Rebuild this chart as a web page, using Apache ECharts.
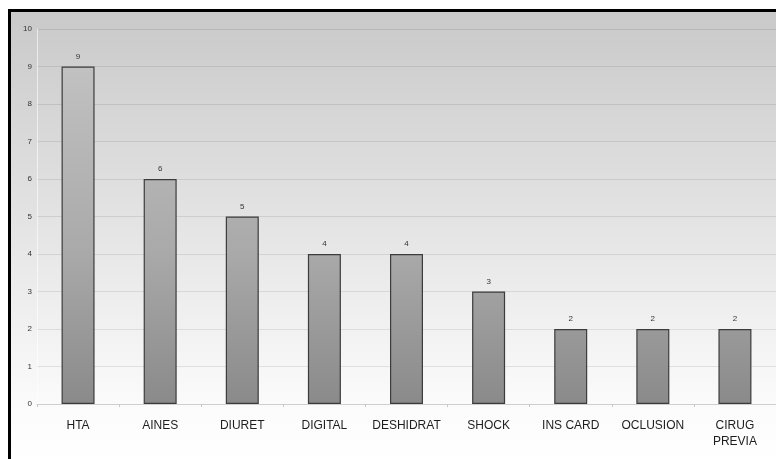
<!DOCTYPE html>
<html>
<head>
<meta charset="utf-8">
<script src="https://cdn.jsdelivr.net/npm/echarts@6/dist/echarts.min.js"></script>
<style>
  html, body { margin: 0; padding: 0; background: #ffffff; }
  #chart { width: 776px; height: 459px; }
</style>
</head>
<body>
<div id="chart"></div>
<script>
// Causes and their counts
const categories = ['HTA', 'AINES', 'DIURET', 'DIGITAL', 'DESHIDRAT', 'SHOCK', 'INS CARD', 'OCLUSION', 'CIRUG\nPREVIA'];
const counts = [9, 6, 5, 4, 4, 3, 2, 2, 2];
const yTicks = [0, 1, 2, 3, 4, 5, 6, 7, 8, 9, 10];

const GRID_TOP = 29;
const GRID_BOTTOM = 55;

const chart = echarts.init(document.getElementById('chart'), null, { renderer: 'canvas' });

chart.setOption({
  animation: false,
  backgroundColor: '#ffffff',
  graphic: [
    // grey panel fading to white towards the baseline
    {
      type: 'rect', z: -10, silent: true,
      shape: { x: 10, y: 11, width: 766, height: 448 },
      style: {
        fill: new echarts.graphic.LinearGradient(0, 0, 0, 1, [
          { offset: 0, color: '#c9c9c9' },
          { offset: 0.88, color: '#fbfbfb' },
          { offset: 1, color: '#ffffff' }
        ])
      }
    },
    // black frame on the left and top edges
    { type: 'rect', z: 100, silent: true, shape: { x: 8, y: 9, width: 768, height: 3 }, style: { fill: '#000' } },
    { type: 'rect', z: 100, silent: true, shape: { x: 8, y: 9, width: 3, height: 450 }, style: { fill: '#000' } }
  ],
  grid: { left: 37, right: 0, top: GRID_TOP, bottom: GRID_BOTTOM, containLabel: false },
  xAxis: {
    type: 'category',
    data: categories,
    axisLine: { show: true, lineStyle: { color: '#cfcfcf', width: 1 } },
    axisTick: { show: true, length: 3, lineStyle: { color: '#c8c8c8' } },
    axisLabel: {
      color: '#1e1e1e', fontFamily: 'Liberation Sans, Arial, sans-serif',
      fontSize: 12, margin: 14, lineHeight: 16, interval: 0
    }
  },
  yAxis: {
    type: 'value',
    min: yTicks[0], max: yTicks[yTicks.length - 1], interval: 1,
    axisLine: { show: true, lineStyle: { color: 'rgba(255,255,255,0.6)' } },
    axisTick: { show: false },
    axisLabel: {
      color: '#333', fontFamily: 'Liberation Sans, Arial, sans-serif',
      fontSize: 8, margin: 5
    },
    splitLine: { show: true, lineStyle: { color: 'rgba(0,0,0,0.09)', width: 1 } }
  },
  series: [{
    type: 'bar',
    data: counts,
    barWidth: 33,
    itemStyle: {
      color: new echarts.graphic.LinearGradient(0, GRID_TOP, 0, 459 - GRID_BOTTOM, [
        { offset: 0, color: '#c6c6c6' },
        { offset: 0.6, color: '#a9a9a9' },
        { offset: 1, color: '#8a8a8a' }
      ], true),
      borderColor: '#3c3c3c',
      borderWidth: 1.2
    },
    label: {
      show: true, position: 'top', distance: 6,
      color: '#333', fontFamily: 'Liberation Sans, Arial, sans-serif', fontSize: 8
    }
  }]
});
</script>
</body>
</html>
